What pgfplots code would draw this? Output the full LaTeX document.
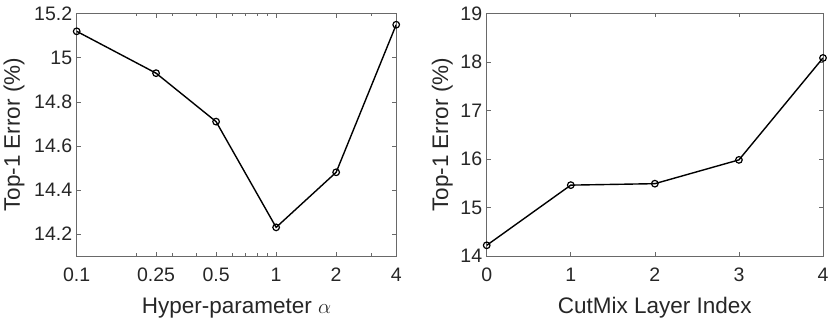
\documentclass[border=0pt]{standalone}
\usepackage{fontspec}
\setmainfont{Liberation Sans}
\usepackage{pgfplots}
\pgfplotsset{compat=1.18}
\definecolor{axgray}{RGB}{105,105,105}
\definecolor{txt}{RGB}{38,38,38}
\begin{document}
\begin{tikzpicture}
\path[use as bounding box] (0,0) rectangle (830pt,323pt);
\pgfplotsset{
  every axis/.append style={
    scale only axis,
    axis line style={axgray, line width=0.6pt},
    every tick/.style={axgray, line width=0.6pt},
    major tick length=4pt,
    minor tick length=2.5pt,
    tick align=inside,
    tick pos=both,
    /pgf/number format/assume math mode=true,
    tick label style={font=\fontsize{19.5}{22}\selectfont, text=txt},
    xticklabel style={yshift=-8.5pt},
    yticklabel style={xshift=-1pt},
    label style={font=\fontsize{22.5}{26}\selectfont, text=txt},
  },
}
% Left plot
\begin{axis}[
  at={(76.7pt,67pt)}, anchor=south west,
  width=319.5pt, height=242.3pt,
  xmode=log, xmin=0.1, xmax=4,
  xtick={0.1,0.25,0.5,1,2,4},
  xticklabels={0.1,0.25,0.5,1,2,4},
  minor xtick={0.2,0.3,0.4,0.6,0.7,0.8,0.9,3},
  ymin=14.1, ymax=15.2,
  ytick={14.2,14.4,14.6,14.8,15,15.2},
  yticklabels={14.2,14.4,14.6,14.8,15,15.2},
  xlabel={Hyper-parameter $\alpha$},
  ylabel={Top-1 Error (\%)},
  xlabel style={at={(axis description cs:0.5,-0.236)}, anchor=base, inner sep=0pt},
  ylabel style={at={(axis description cs:-0.1775,0.5)}, anchor=base, rotate=0, inner sep=0pt},
]
\addplot[black, line width=1.4pt, mark=o, mark size=3.3pt, mark options={line width=1.2pt}]
  coordinates {(0.1,15.12) (0.25,14.93) (0.5,14.71) (1,14.23) (2,14.48) (4,15.15)};
\end{axis}
% Right plot
\begin{axis}[
  at={(486.7pt,67pt)}, anchor=south west,
  width=336.3pt, height=242.7pt,
  xmin=0, xmax=4,
  xtick={0,1,2,3,4},
  ymin=14, ymax=19,
  ytick={14,15,16,17,18,19},
  xlabel={CutMix Layer Index},
  ylabel={Top-1 Error (\%)},
  xlabel style={at={(axis description cs:0.5,-0.236)}, anchor=base, inner sep=0pt},
  ylabel style={at={(axis description cs:-0.115,0.5)}, anchor=base, rotate=0, inner sep=0pt},
]
\addplot[black, line width=1.4pt, mark=o, mark size=3.3pt, mark options={line width=1.2pt}]
  coordinates {(0,14.22) (1,15.46) (2,15.49) (3,15.98) (4,18.08)};
\end{axis}
\end{tikzpicture}
\end{document}
